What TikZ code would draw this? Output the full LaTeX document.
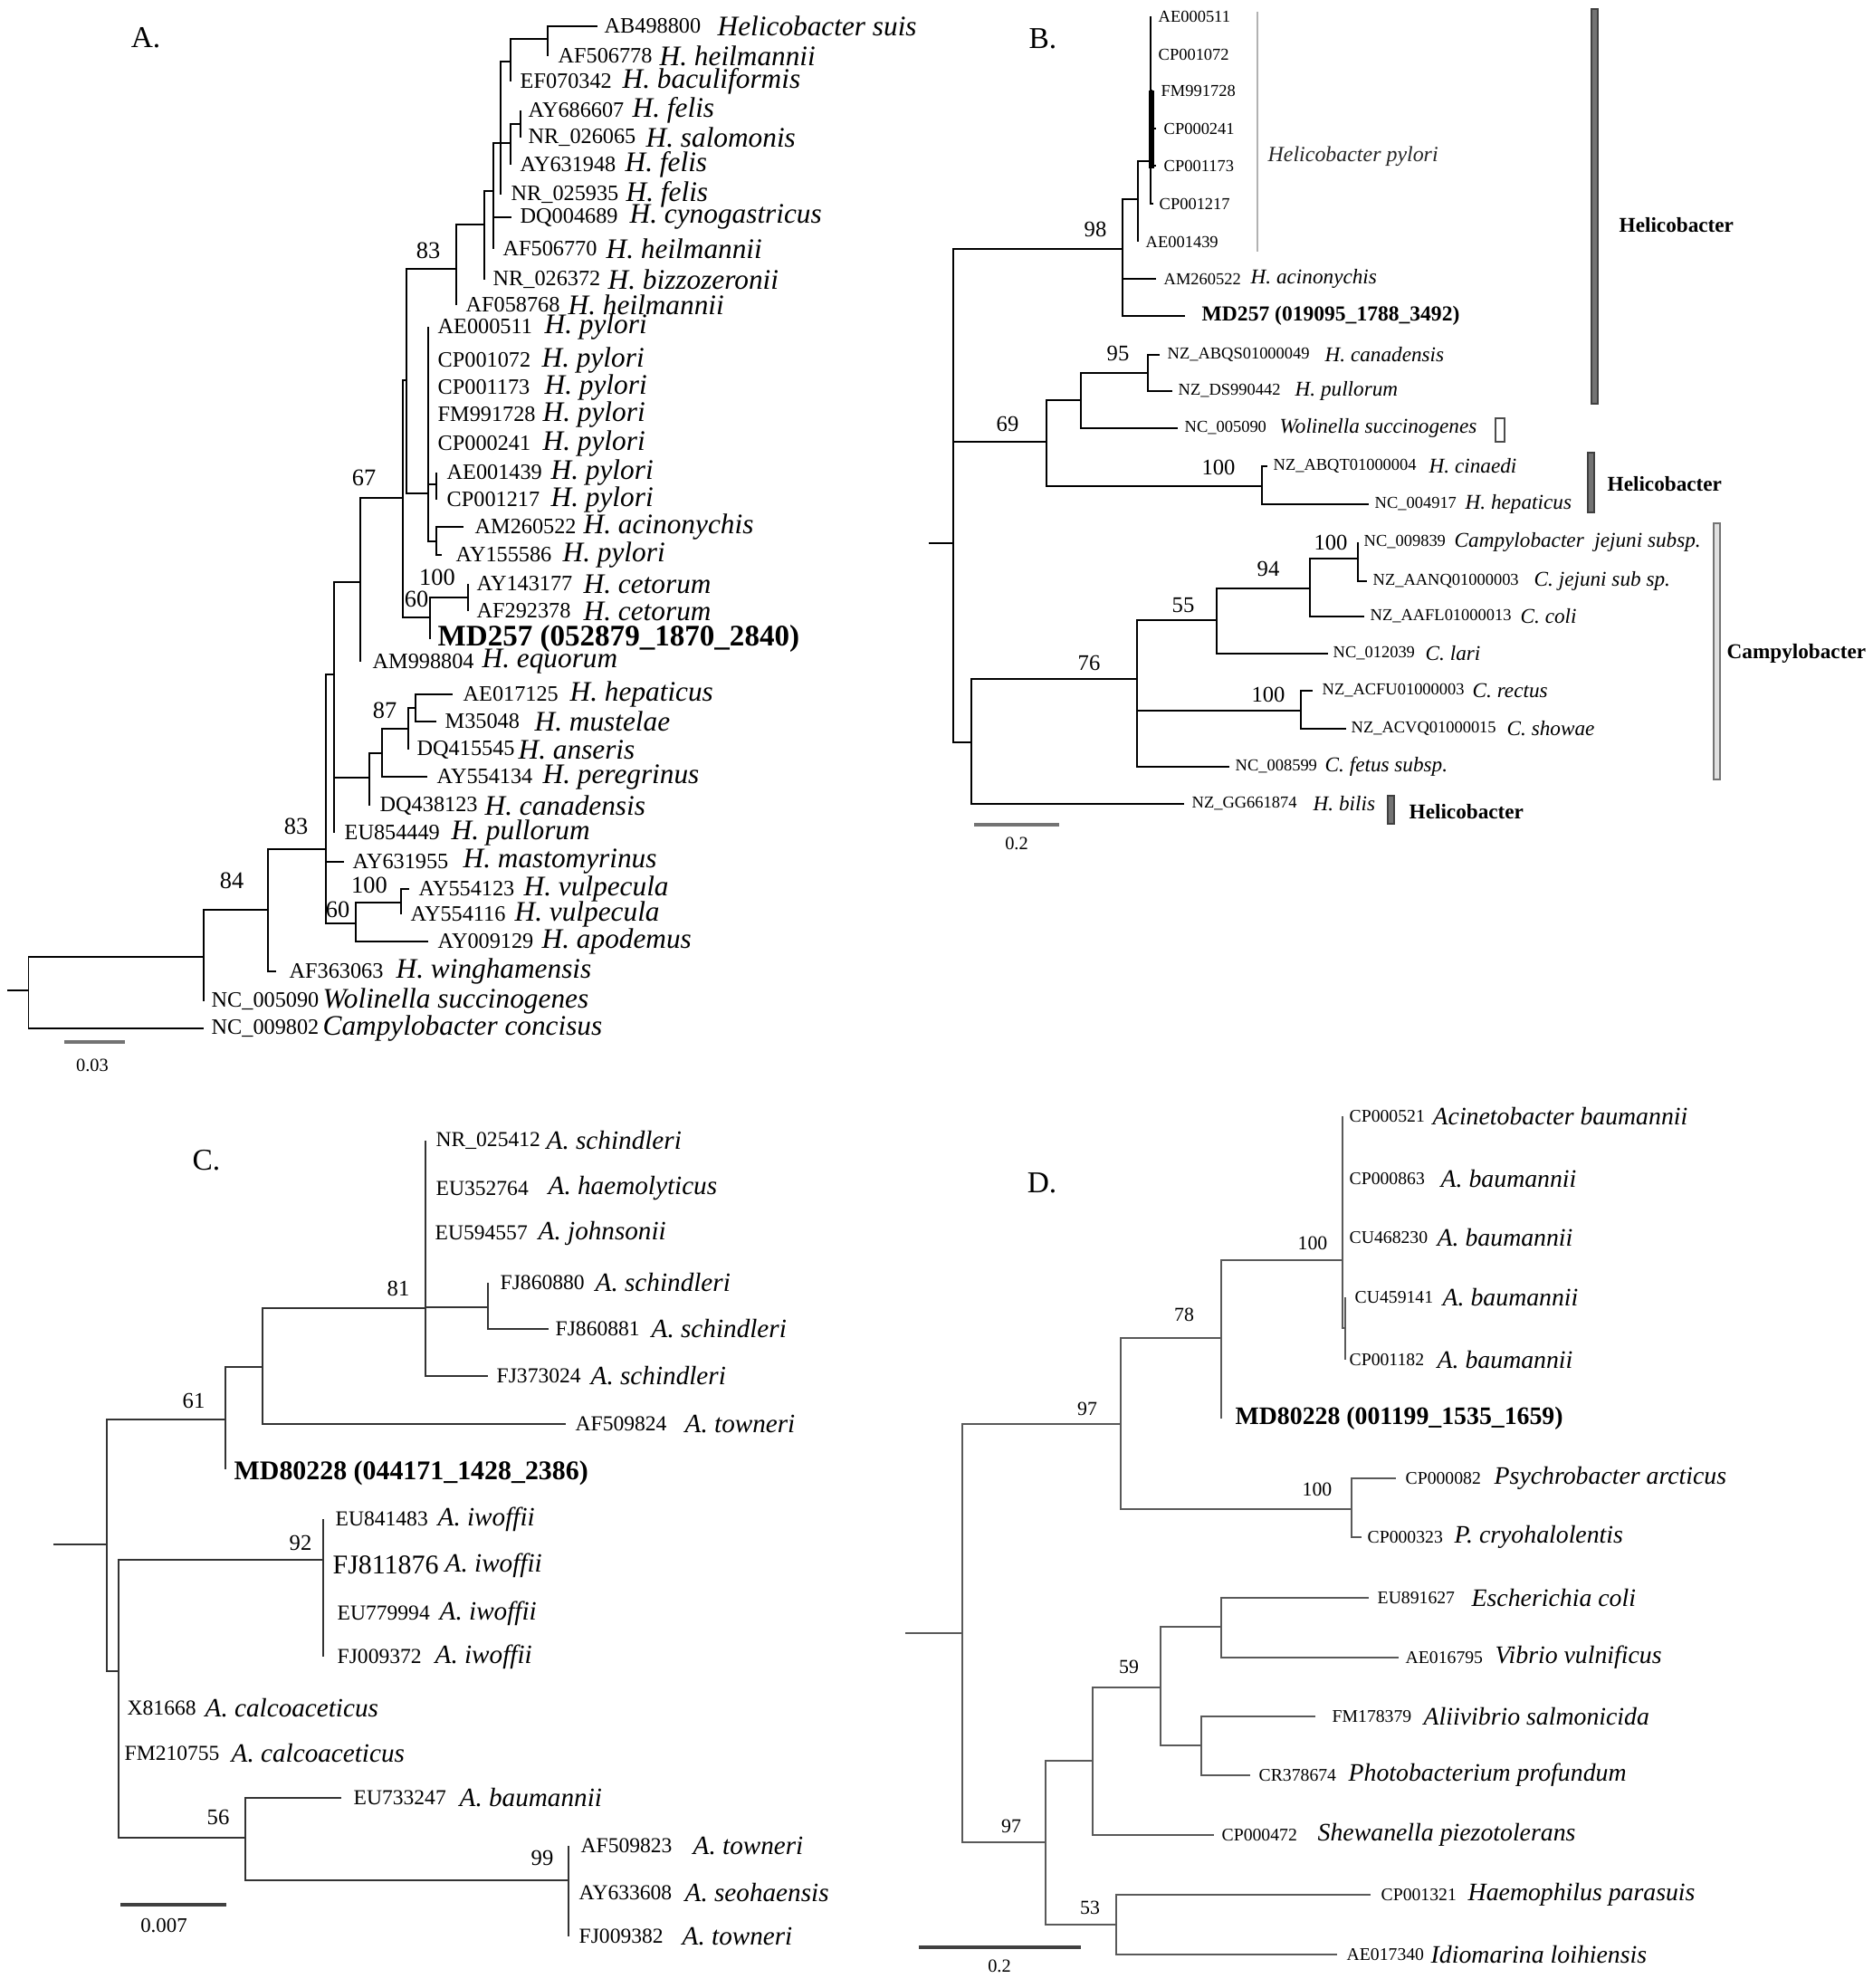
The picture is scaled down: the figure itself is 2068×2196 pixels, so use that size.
\documentclass[tikz,border=0pt]{standalone}
\usepackage{fontspec}
\setmainfont{Liberation Serif}
\newcommand\leaf[8]{\coordinate (#2) at (#3,#4); \node[acc#1] (#2a) at (#5,#4) {#6}; \node[sp#1] (#2b) at (#7,#4) {#8};}
\newcommand\leafo[6]{\coordinate (#2) at (#3,#4); \node[acc#1] (#2a) at (#5,#4) {#6};}
\newcommand\edges[3]{\foreach \ch in {#3} {\draw[tree#1] (#2) |- (\ch);}}
\tikzset{
 treeA/.style={line width=0.45pt, black},
 treeB/.style={line width=0.7pt, black},
 treeC/.style={line width=0.55pt, black!80},
 treeD/.style={line width=0.55pt, black!65},
 txt/.style={inner sep=0pt, anchor=west},
 accA/.style={txt, font=\fontsize{6.9}{8}\selectfont},
 spA/.style={txt, font=\fontsize{8.9}{10}\selectfont\itshape},
 accB/.style={txt, font=\fontsize{5.25}{6}\selectfont},
 spB/.style={txt, font=\fontsize{6.6}{7}\selectfont\itshape},
 accC/.style={txt, font=\fontsize{6.7}{8}\selectfont},
 spC/.style={txt, font=\fontsize{8.3}{9}\selectfont\itshape},
 accD/.style={txt, font=\fontsize{5.6}{7}\selectfont},
 spD/.style={txt, font=\fontsize{7.9}{9}\selectfont\itshape},
 mdA/.style={txt, font=\fontsize{9.4}{10}\selectfont\bfseries},
 mdB/.style={txt, font=\fontsize{6.7}{8}\selectfont\bfseries},
 mdC/.style={txt, font=\fontsize{8.5}{10}\selectfont\bfseries},
 mdD/.style={txt, font=\fontsize{7.9}{9}\selectfont\bfseries},
 bsA/.style={inner sep=0pt, font=\fontsize{7.5}{8}\selectfont},
 bsB/.style={inner sep=0pt, font=\fontsize{7}{8}\selectfont},
 bsC/.style={inner sep=0pt, font=\fontsize{7}{8}\selectfont},
 bsD/.style={inner sep=0pt, font=\fontsize{6.2}{7}\selectfont},
 panel/.style={inner sep=0pt, font=\fontsize{9.5}{10}\selectfont},
 sbar/.style={line width=0.9pt, black!55},
 sblab/.style={inner sep=0pt, font=\fontsize{5.8}{7}\selectfont},
 grp/.style={txt, font=\fontsize{6.6}{8}\selectfont\bfseries},
 darkbar/.style={fill=black!55, draw=black!75, line width=0.4pt},
 lightbar/.style={fill=black!12, draw=black!55, line width=0.4pt},
}
\begin{document}
\begin{tikzpicture}[x=0.01cm, y=-0.01cm]
\useasboundingbox (0,0) rectangle (2068,2196);
\fill[white] (0,0) rectangle (2068,2196);

%%%%%%%%%%%%%%%% PANEL A
\node[panel] (labA) at (161,42) {A.};
\leaf{A}{aAB498800}{660}{29}{667}{AB498800}{792}{Helicobacter suis}
\leaf{A}{aAF506778}{605}{62}{616}{AF506778}{728}{H. heilmannii}
\leaf{A}{aEF070342}{564}{90}{574}{EF070342}{687}{H. baculiformis}
\leaf{A}{aAY686607}{575}{122}{583}{AY686607}{698}{H. felis}
\leaf{A}{aNR026065}{575}{152}{583}{NR\_026065}{713}{H. salomonis}
\leaf{A}{aAY631948}{564}{182}{574}{AY631948}{690}{H. felis}
\leaf{A}{aNR025935}{553}{215}{564}{NR\_025935}{691}{H. felis}
\leaf{A}{aDQ004689}{565}{240}{574}{DQ004689}{695}{H. cynogastricus}
\leaf{A}{aAF506770}{545}{275}{555}{AF506770}{669}{H. heilmannii}
\leaf{A}{aNR026372}{535}{309}{544}{NR\_026372}{671}{H. bizzozeronii}
\leaf{A}{aAF058768}{504}{337}{514}{AF058768}{627}{H. heilmannii}
\leaf{A}{aAE000511}{473}{361}{483}{AE000511}{601}{H. pylori}
\leaf{A}{aCP001072}{473}{398}{483}{CP001072}{598}{H. pylori}
\leaf{A}{aCP001173}{473}{428}{483}{CP001173}{601}{H. pylori}
\leaf{A}{aFM991728}{473}{458}{483}{FM991728}{599}{H. pylori}
\leaf{A}{aCP000241}{473}{490}{483}{CP000241}{599}{H. pylori}
\leaf{A}{aAE001439}{482}{522}{493}{AE001439}{608}{H. pylori}
\leaf{A}{aCP001217}{482}{552}{493}{CP001217}{608}{H. pylori}
\leaf{A}{aAM260522}{512}{582}{524}{AM260522}{644}{H. acinonychis}
\leaf{A}{aAY155586}{488}{613}{503}{AY155586}{621}{H. pylori}
\leaf{A}{aAY143177}{517}{645}{526}{AY143177}{644}{H. cetorum}
\leaf{A}{aAF292378}{517}{675}{526}{AF292378}{644}{H. cetorum}
\coordinate (aMD) at (475,706);
\node[mdA] (aMDl) at (483,706) {MD257 (052879\_1870\_2840)};
\leaf{A}{aAM998804}{398}{731}{411}{AM998804}{532}{H. equorum}
\leaf{A}{aAE017125}{500}{767}{511}{AE017125}{629}{H. hepaticus}
\leaf{A}{aM35048}{482}{797}{491}{M35048}{590}{H. mustelae}
\leaf{A}{aDQ415545}{451}{828}{460}{DQ415545}{572}{H. anseris}
\leaf{A}{aAY554134}{472}{858}{482}{AY554134}{599}{H. peregrinus}
\leaf{A}{aDQ438123}{408}{890}{419}{DQ438123}{535}{H. canadensis}
\leaf{A}{aEU854449}{369}{920}{380}{EU854449}{498}{H. pullorum}
\leaf{A}{aAY631955}{380}{952}{389}{AY631955}{511}{H. mastomyrinus}
\leaf{A}{aAY554123}{452}{982}{462}{AY554123}{578}{H. vulpecula}
\leaf{A}{aAY554116}{443}{1010}{453}{AY554116}{568}{H. vulpecula}
\leaf{A}{aAY009129}{473}{1040}{483}{AY009129}{598}{H. apodemus}
\leaf{A}{aAF363063}{305}{1073}{319}{AF363063}{437}{H. winghamensis}
\leaf{A}{aNC005090}{225}{1106}{233}{NC\_005090}{356}{Wolinella succinogenes}
\leaf{A}{aNC009802}{225}{1136}{233}{NC\_009802}{356}{Campylobacter concisus}

\coordinate (Ar0) at (8,1094);
\coordinate (Ar) at (31.5,1094);
\coordinate (A84) at (225,1057);
\coordinate (A83) at (296,1005);
\coordinate (AU) at (360,938);
\coordinate (AV) at (393,1020);
\coordinate (AW) at (443,997);
\coordinate (AT) at (369,745);
\coordinate (AH) at (408,859);
\coordinate (AH1) at (422,832);
\coordinate (AH87) at (451,805);
\coordinate (AH2) at (459,782);
\coordinate (AS) at (398,643);
\coordinate (AP) at (445,550);
\coordinate (AR) at (475,682);
\coordinate (ACe) at (517,660);
\coordinate (AQ) at (449,420);
\coordinate (APy) at (473,545);
\coordinate (APy2) at (482,535);
\coordinate (APy3) at (482,598);
\coordinate (AUp) at (504,297);
\coordinate (AU1) at (535,248);
\coordinate (AU2) at (545,211);
\coordinate (AU3) at (553,158);
\coordinate (AU4) at (564,158);
\coordinate (AU5) at (575,137);
\coordinate (AX2) at (564,68);
\coordinate (AX1) at (605,43);

\draw[treeA] (Ar0) -- (Ar);
\edges{A}{Ar}{A84,aNC009802}
\edges{A}{A84}{A83,aNC005090}
\edges{A}{A83}{AU,aAF363063}
\edges{A}{AU}{AT,aAY631955,AV}
\edges{A}{AV}{AW,aAY009129}
\edges{A}{AW}{aAY554123,aAY554116}
\edges{A}{AT}{AS,AH,aEU854449}
\edges{A}{AH}{AH1,aDQ438123}
\edges{A}{AH1}{AH87,aAY554134}
\edges{A}{AH87}{AH2,aDQ415545}
\edges{A}{AH2}{aAE017125,aM35048}
\edges{A}{AS}{AP,aAM998804}
\edges{A}{AP}{AQ,AR}
\edges{A}{AR}{ACe,aMD}
\edges{A}{ACe}{aAY143177,aAF292378}
\edges{A}{AQ}{AUp,APy}
\edges{A}{APy}{aAE000511,aCP001072,aCP001173,aFM991728,aCP000241,APy2,APy3}
\edges{A}{APy2}{aAE001439,aCP001217}
\edges{A}{APy3}{aAM260522,aAY155586}
\edges{A}{AUp}{AU1,aAF058768}
\edges{A}{AU1}{AU2,aNR026372}
\edges{A}{AU2}{AU3,aDQ004689,aAF506770}
\edges{A}{AU3}{AX2,AU4,aNR025935}
\edges{A}{AU4}{AU5,aAY631948}
\edges{A}{AU5}{aAY686607,aNR026065}
\edges{A}{AX2}{AX1,aEF070342}
\edges{A}{AX1}{aAB498800,aAF506778}

\node[bsA] (bsA1) at (473,277) {83};
\node[bsA] (bsA2) at (402,528) {67};
\node[bsA] (bsA3) at (483,638) {100};
\node[bsA] (bsA4) at (460,662) {60};
\node[bsA] (bsA5) at (425,785) {87};
\node[bsA] (bsA6) at (327,913) {83};
\node[bsA] (bsA7) at (408,978) {100};
\node[bsA] (bsA8) at (373,1005) {60};
\node[bsA] (bsA9) at (256,973) {84};
\coordinate (sbA1) at (71,1151); \coordinate (sbA2) at (138,1151);
\draw[sbar] (sbA1) -- (sbA2);
\node[sblab] (sbAl) at (102,1177) {0.03};

%%%%%%%%%%%%%%%% PANEL B
\node[panel] (labB) at (1152,43) {B.};
\leafo{B}{bAE000511}{1271}{18}{1279}{AE000511}
\leafo{B}{bCP001072}{1271}{60}{1279}{CP001072}
\leafo{B}{bFM991728}{1273}{100}{1282}{FM991728}
\leafo{B}{bCP000241}{1277}{142}{1285}{CP000241}
\leafo{B}{bCP001173}{1277}{183}{1285}{CP001173}
\leafo{B}{bCP001217}{1274}{225}{1280}{CP001217}
\leafo{B}{bAE001439}{1257}{267}{1265}{AE001439}
\leaf{B}{bAM260522}{1277}{308}{1285}{AM260522}{1381}{H. acinonychis}
\coordinate (bMD) at (1309,349);
\node[mdB] (bMDl) at (1327,349) {MD257 (019095\_1788\_3492)};
\leaf{B}{bABQS}{1281}{392}{1289}{NZ\_ABQS01000049}{1463}{H. canadensis}
\leaf{B}{bDS}{1295}{432}{1301}{NZ\_DS990442}{1430}{H. pullorum}
\leaf{B}{bWs}{1301}{473}{1308}{NC\_005090}{1413}{Wolinella succinogenes}
\leaf{B}{bABQT}{1400}{515}{1406}{NZ\_ABQT01000004}{1578}{H. cinaedi}
\leaf{B}{bHh}{1512}{557}{1518}{NC\_004917}{1618}{H. hepaticus}
\leaf{B}{bNC009839}{1500}{599}{1506}{NC\_009839}{1606}{Campylobacter\ \ jejuni subsp.}
\leaf{B}{bAANQ}{1510}{642}{1516}{NZ\_AANQ01000003}{1694}{C. jejuni sub sp.}
\leaf{B}{bAAFL}{1507}{681}{1513}{NZ\_AAFL01000013}{1679}{C. coli}
\leaf{B}{bNC012039}{1467}{722}{1472}{NC\_012039}{1574}{C. lari}
\leaf{B}{bACFU}{1450}{763}{1460}{NZ\_ACFU01000003}{1626}{C. rectus}
\leaf{B}{bACVQ}{1487}{805}{1492}{NZ\_ACVQ01000015}{1664}{C. showae}
\leaf{B}{bNC008599}{1358}{847}{1364}{NC\_008599}{1463}{C. fetus subsp.}
\leaf{B}{bGG}{1308}{888}{1316}{NZ\_GG661874}{1450}{H. bilis}

\coordinate (bR0) at (1026,600);
\coordinate (bR) at (1053,600);
\coordinate (bP0) at (1240,275);
\coordinate (bP1) at (1257,220);
\coordinate (bP2) at (1271,178);
\coordinate (b69) at (1156,488);
\coordinate (bN1) at (1194,442);
\coordinate (b95) at (1268,412);
\coordinate (b100a) at (1394,537);
\coordinate (b76) at (1073,820);
\coordinate (bN2) at (1256,750);
\coordinate (b55) at (1344,685);
\coordinate (b94) at (1447,650);
\coordinate (b100b) at (1500,617);
\coordinate (b100c) at (1437,785);

\draw[treeB] (bR0) -- (bR);
\edges{B}{bR}{bP0,b69,b76}
\edges{B}{bP0}{bP1,bAM260522,bMD}
\edges{B}{bP1}{bP2,bAE001439}
\edges{B}{bP2}{bAE000511,bCP001072,bFM991728,bCP000241,bCP001173,bCP001217}
\draw[line width=1.6pt] (1272,100) -- (1272,186);
\edges{B}{b69}{bN1,b100a}
\edges{B}{bN1}{b95,bWs}
\edges{B}{b95}{bABQS,bDS}
\edges{B}{b100a}{bABQT,bHh}
\edges{B}{b76}{bN2,bGG}
\edges{B}{bN2}{b55,b100c,bNC008599}
\edges{B}{b55}{b94,bNC012039}
\edges{B}{b94}{b100b,bAAFL}
\edges{B}{b100b}{bNC009839,bAANQ}
\edges{B}{b100c}{bACFU,bACVQ}

\node[bsB] (bsB1) at (1210,253) {98};
\node[bsB] (bsB2) at (1235,390) {95};
\node[bsB] (bsB3) at (1113,468) {69};
\node[bsB] (bsB4) at (1346,516) {100};
\node[bsB] (bsB5) at (1470,599) {100};
\node[bsB] (bsB6) at (1401,628) {94};
\node[bsB] (bsB7) at (1307,669) {55};
\node[bsB] (bsB8) at (1203,732) {76};
\node[bsB] (bsB9) at (1401,767) {100};

% clade markers
\draw[black!30, line width=0.45pt] (1389,13) -- (1389,278);
\node[txt, font=\fontsize{6.8}{8}\selectfont\itshape, text=black!85] (hpyl) at (1400,173) {Helicobacter pylori};
\draw[darkbar] (1758,10) rectangle (1765,446);
\node[grp] (gB1) at (1788,249) {Helicobacter};
\draw[fill=white, draw=black!70, line width=0.45pt] (1652,462) rectangle (1662,488);
\draw[darkbar] (1754,500) rectangle (1761,566);
\node[grp] (gB2) at (1775,535) {Helicobacter};
\draw[lightbar] (1893,578) rectangle (1900,861);
\node[grp] (gB3) at (1907,722) {Campylobacter};
\draw[darkbar] (1533,879) rectangle (1540,910);
\node[grp] (gB4) at (1556,897) {Helicobacter};

\coordinate (sbB1) at (1076,911); \coordinate (sbB2) at (1170,911);
\draw[sbar] (sbB1) -- (sbB2);
\node[sblab] (sbBl) at (1123,932) {0.2};

%%%%%%%%%%%%%%%% PANEL C
\node[panel] (labC) at (228,1282) {C.};
\leaf{C}{cNR025412}{470}{1260}{481}{NR\_025412}{603}{A. schindleri}
\leaf{C}{cEU352764}{470}{1313}{481}{EU352764}{605}{A. haemolyticus}
\leaf{C}{cEU594557}{470}{1362}{480}{EU594557}{594}{A. johnsonii}
\leaf{C}{cFJ860880}{539}{1417}{552}{FJ860880}{657}{A. schindleri}
\leaf{C}{cFJ860881}{606}{1468}{613}{FJ860881}{719}{A. schindleri}
\leaf{C}{cFJ373024}{539}{1520}{548}{FJ373024}{652}{A. schindleri}
\leaf{C}{cAF509824}{625}{1573}{635}{AF509824}{756}{A. towneri}
\coordinate (cMD) at (249,1623);
\node[mdC] (cMDl) at (258,1627) {MD80228 (044171\_1428\_2386)};
\leaf{C}{cEU841483}{357}{1678}{370}{EU841483}{483}{A. iwoffii}
\coordinate (cFJ811876) at (357,1729);
\node[txt, font=\fontsize{8.5}{10}\selectfont] (cFJ811876a) at (367,1729) {FJ811876};
\node[spC] (cFJ811876b) at (491,1729) {A. iwoffii};
\leaf{C}{cEU779994}{357}{1782}{372}{EU779994}{485}{A. iwoffii}
\leaf{C}{cFJ009372}{357}{1830}{372}{FJ009372}{480}{A. iwoffii}
\leaf{C}{cX81668}{131}{1887}{140}{X81668}{226}{A. calcoaceticus}
\leaf{C}{cFM210755}{131}{1937}{137}{FM210755}{255}{A. calcoaceticus}
\leaf{C}{cEU733247}{377}{1986}{390}{EU733247}{507}{A. baumannii}
\leaf{C}{cAF509823}{628}{2039}{641}{AF509823}{765}{A. towneri}
\leaf{C}{cAY633608}{628}{2091}{639}{AY633608}{756}{A. seohaensis}
\leaf{C}{cFJ009382}{628}{2139}{639}{FJ009382}{753}{A. towneri}

\coordinate (cR0) at (59,1706);
\coordinate (cR) at (118,1706);
\coordinate (c61) at (249,1568);
\coordinate (c3) at (290,1510);
\coordinate (c81) at (470,1445);
\coordinate (c4) at (539,1444);
\coordinate (c2) at (131,1846);
\coordinate (c92) at (357,1723);
\coordinate (c56) at (271,2030);
\coordinate (c99) at (628,2077);

\draw[treeC] (cR0) -- (cR);
\edges{C}{cR}{c61,c2}
\edges{C}{c61}{c3,cMD}
\edges{C}{c3}{c81,cAF509824}
\edges{C}{c81}{cNR025412,cEU352764,cEU594557,c4,cFJ373024}
\edges{C}{c4}{cFJ860880,cFJ860881}
\edges{C}{c2}{c92,cX81668,cFM210755,c56}
\edges{C}{c92}{cEU841483,cFJ811876,cEU779994,cFJ009372}
\edges{C}{c56}{cEU733247,c99}
\edges{C}{c99}{cAF509823,cAY633608,cFJ009382}

\node[bsC] (bsC1) at (440,1423) {81};
\node[bsC] (bsC2) at (214,1547) {61};
\node[bsC] (bsC3) at (332,1704) {92};
\node[bsC] (bsC4) at (241,2007) {56};
\node[bsC] (bsC5) at (599,2052) {99};
\coordinate (sbC1) at (133,2104); \coordinate (sbC2) at (250,2104);
\draw[sbar, black!75] (sbC1) -- (sbC2);
\node[inner sep=0pt, font=\fontsize{6.5}{8}\selectfont] (sbCl) at (181,2127) {0.007};

%%%%%%%%%%%%%%%% PANEL D
\node[panel] (labD) at (1151,1307) {D.};
\leaf{D}{dCP000521}{1483}{1233}{1490}{CP000521}{1582}{Acinetobacter baumannii}
\leaf{D}{dCP000863}{1483}{1302}{1490}{CP000863}{1591}{A. baumannii}
\leaf{D}{dCU468230}{1483}{1367}{1490}{CU468230}{1587}{A. baumannii}
\leaf{D}{dCU459141}{1486}{1433}{1496}{CU459141}{1593}{A. baumannii}
\leaf{D}{dCP001182}{1486}{1502}{1490}{CP001182}{1587}{A. baumannii}
\coordinate (dMD) at (1349,1567);
\node[mdD] (dMDl) at (1364,1567) {MD80228 (001199\_1535\_1659)};
\leaf{D}{dCP000082}{1542}{1633}{1552}{CP000082}{1650}{Psychrobacter arcticus}
\leaf{D}{dCP000323}{1504}{1698}{1510}{CP000323}{1606}{P. cryohalolentis}
\leaf{D}{dEU891627}{1512}{1765}{1521}{EU891627}{1625}{Escherichia coli}
\leaf{D}{dAE016795}{1545}{1831}{1552}{AE016795}{1651}{Vibrio vulnificus}
\leaf{D}{dFM178379}{1453}{1896}{1471}{FM178379}{1572}{Aliivibrio salmonicida}
\leaf{D}{dCR378674}{1381}{1961}{1390}{CR378674}{1489}{Photobacterium profundum}
\leaf{D}{dCP000472}{1341}{2027}{1349}{CP000472}{1455}{Shewanella piezotolerans}
\leaf{D}{dCP001321}{1514}{2093}{1525}{CP001321}{1621}{Haemophilus parasuis}
\leaf{D}{dAE017340}{1477}{2159}{1487}{AE017340}{1580}{Idiomarina loihiensis}

\coordinate (dR0) at (1000,1804);
\coordinate (dR) at (1063,1804);
\coordinate (d97a) at (1238,1573);
\coordinate (d78) at (1349,1478);
\coordinate (d100) at (1483,1392);
\coordinate (dsub) at (1486,1467);
\coordinate (d100p) at (1493,1667);
\coordinate (d97b) at (1155,2035);
\coordinate (d1) at (1207,1945);
\coordinate (d59) at (1282,1864);
\coordinate (d2) at (1349,1797);
\coordinate (d3) at (1327,1928);
\coordinate (d53) at (1233,2126);

\draw[treeD] (dR0) -- (dR);
\edges{D}{dR}{d97a,d97b}
\edges{D}{d97a}{d78,d100p}
\edges{D}{d78}{d100,dMD}
\edges{D}{d100}{dCP000521,dCP000863,dCU468230,dsub}
\edges{D}{dsub}{dCU459141,dCP001182}
\edges{D}{d100p}{dCP000082,dCP000323}
\edges{D}{d97b}{d1,d53}
\edges{D}{d1}{d59,dCP000472}
\edges{D}{d59}{d2,d3}
\edges{D}{d2}{dEU891627,dAE016795}
\edges{D}{d3}{dFM178379,dCR378674}
\edges{D}{d53}{dCP001321,dAE017340}

\node[bsD] (bsD1) at (1450,1373) {100};
\node[bsD] (bsD2) at (1308,1452) {78};
\node[bsD] (bsD3) at (1201,1556) {97};
\node[bsD] (bsD4) at (1455,1645) {100};
\node[bsD] (bsD5) at (1247,1841) {59};
\node[bsD] (bsD6) at (1117,2017) {97};
\node[bsD] (bsD7) at (1204,2107) {53};
\coordinate (sbD1) at (1015,2151); \coordinate (sbD2) at (1194,2151);
\draw[sbar, black!75] (sbD1) -- (sbD2);
\node[sblab] (sbDl) at (1104,2172) {0.2};
\end{tikzpicture}
\end{document}
